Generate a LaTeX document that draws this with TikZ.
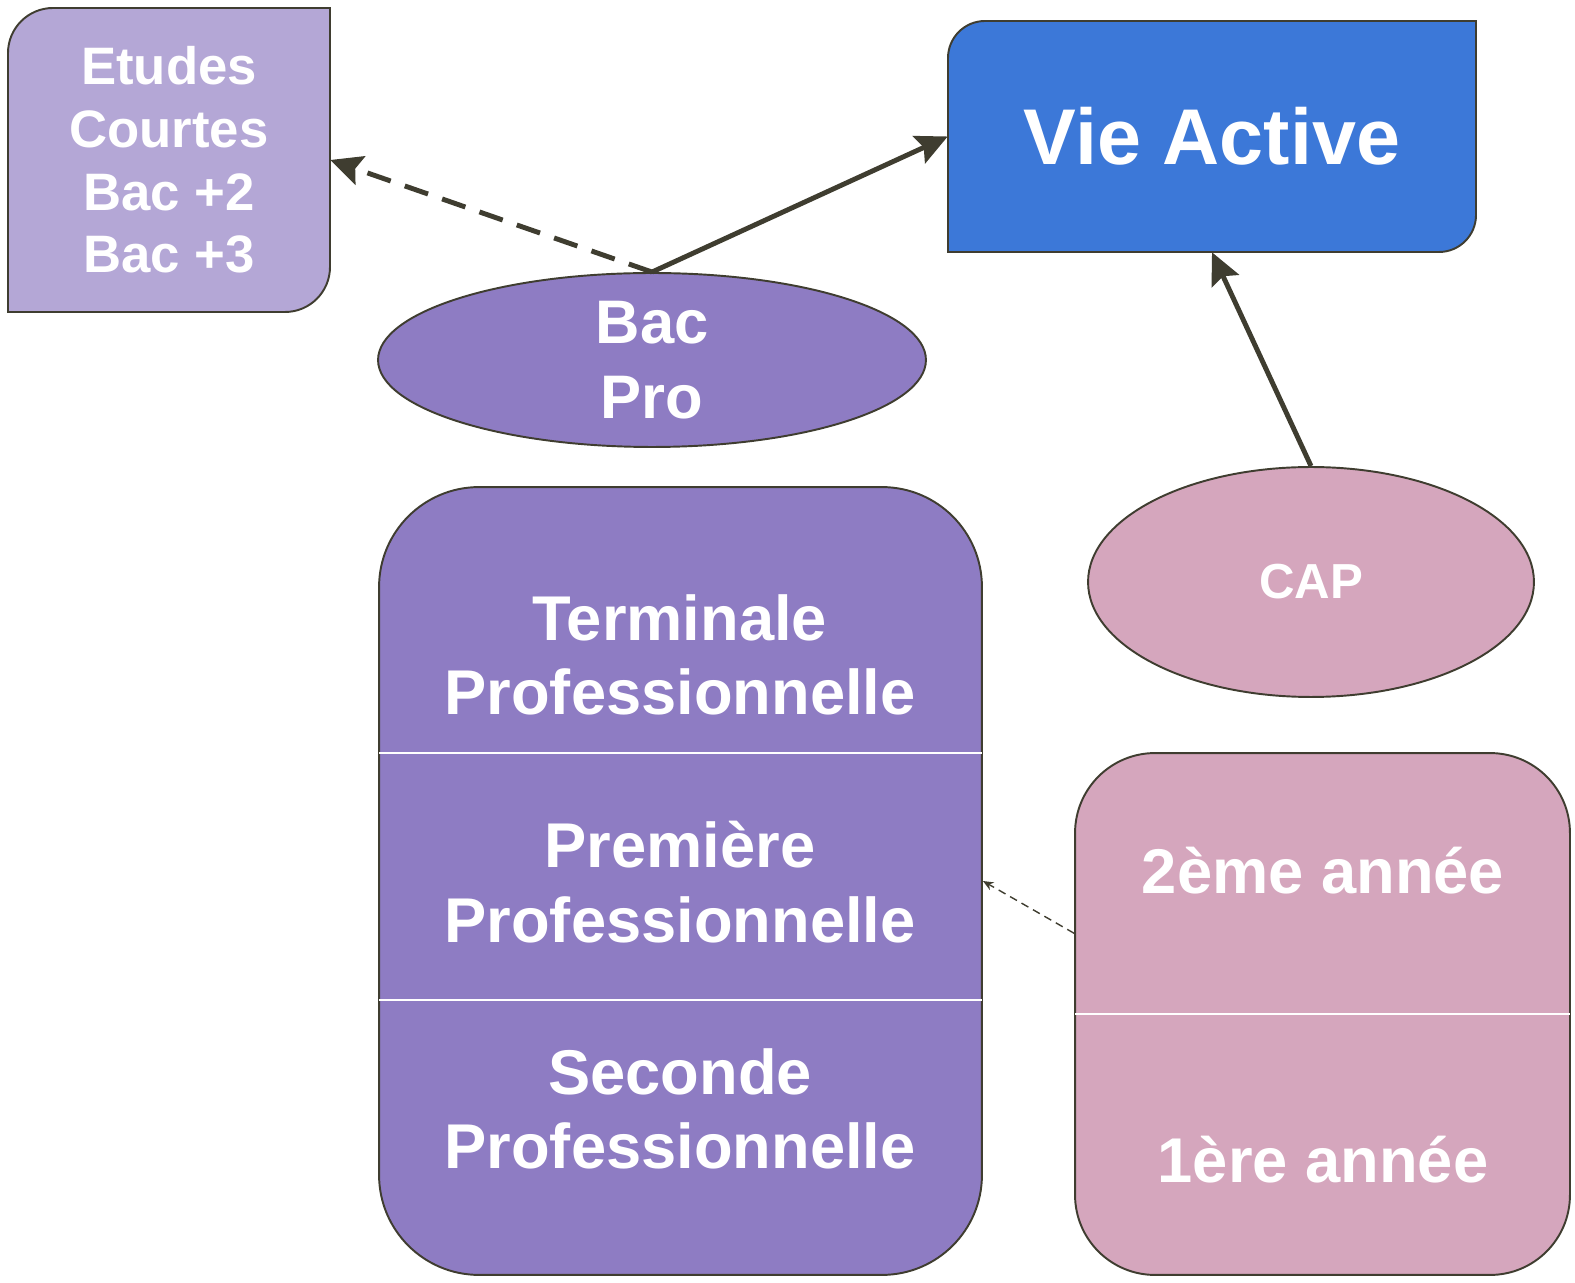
\documentclass[tikz,border=0pt]{standalone}
\usepackage{fontspec}
\setmainfont{Liberation Sans}
\usepackage{xcolor}
\usetikzlibrary{shapes,arrows.meta}
\definecolor{etudes}{HTML}{B4A7D6}
\definecolor{vieactive}{HTML}{3C78D8}
\definecolor{violet}{HTML}{8E7CC3}
\definecolor{rose}{HTML}{D5A6BD}
\definecolor{trait}{HTML}{3F3D30}

\begin{document}
\begin{tikzpicture}[x=0.02cm,y=0.02cm,
  bord/.style={draw=trait,line width=1.1pt},
  texte/.style={text=white,align=center},
  fleche/.style={draw=trait,line width=2.8pt,-{Stealth[length=18pt,width=17pt,inset=3pt]}},
  fleche fine/.style={draw=trait,line width=0.8pt,dash pattern=on 4.5pt off 3pt,-{Stealth[length=6pt,width=5pt]}},
  separe/.style={draw=white,line width=1.2pt,shorten <=0.6pt,shorten >=0.6pt}]
\useasboundingbox (0,0) rectangle (1575,1282);
\filldraw[bord,fill=etudes] (8,970) -- (8,1229) arc[start angle=180,end angle=90,radius=45] -- (330,1274) -- (330,1015) arc[start angle=0,end angle=-90,radius=45] -- cycle;
\node[texte,minimum width=6.44cm,minimum height=6.08cm,font=\bfseries\fontsize{30}{35.7}\selectfont] (etudes) at (169,1122) {Etudes\\Courtes\\Bac +2\\Bac +3};
\filldraw[bord,fill=vieactive] (948,1030) -- (948,1224) arc[start angle=180,end angle=90,radius=37] -- (1476,1261) -- (1476,1067) arc[start angle=0,end angle=-90,radius=37] -- cycle;
\node[texte,minimum width=10.56cm,minimum height=4.62cm,font=\bfseries\fontsize{45}{54}\selectfont] (vie) at (1212,1145.5) {Vie Active};
\node[ellipse,bord,fill=violet,texte,inner sep=0pt,minimum width=10.96cm,minimum height=3.48cm,font=\bfseries\fontsize{35}{42.5}\selectfont] (bacpro) at (652,922) {Bac\\Pro};
\node[bord,fill=violet,rounded corners=2cm,minimum width=12.06cm,minimum height=15.76cm] (classes) at (680.5,401) {};
\draw[separe] (classes.west |- 0,529) -- (classes.east |- 0,529);
\draw[separe] (classes.west |- 0,282) -- (classes.east |- 0,282);
\node[texte,font=\bfseries\fontsize{36}{42.5}\selectfont] (terminale) at (680,627) {Terminale\\Professionnelle};
\node[texte,font=\bfseries\fontsize{36}{42.5}\selectfont] (premiere) at (680,400) {Première\\Professionnelle};
\node[texte,font=\bfseries\fontsize{36}{42.5}\selectfont] (seconde) at (680,173) {Seconde\\Professionnelle};
\node[ellipse,bord,fill=rose,texte,inner sep=0pt,minimum width=8.92cm,minimum height=4.6cm,font=\bfseries\fontsize{28}{34}\selectfont] (cap) at (1311,700) {CAP};
\node[bord,fill=rose,rounded corners=1.6cm,minimum width=9.9cm,minimum height=10.44cm] (annees) at (1322.5,268) {};
\draw[separe] (annees.west) -- (annees.east);
\node[texte,font=\bfseries\fontsize{36}{42.5}\selectfont] (deuxieme) at (1323,411) {2ème année};
\node[texte,font=\bfseries\fontsize{36}{42.5}\selectfont] (premiere annee) at (1323,122) {1ère année};
\draw[fleche] (bacpro.north) -- (vie.west);
\draw[fleche,dash pattern=on 14pt off 8.5pt] (bacpro.north) -- (etudes.east);
\draw[fleche] (cap.north) -- (vie.south);
\draw[fleche fine] (annees.162) -- (classes.east);
\end{tikzpicture}
\end{document}
